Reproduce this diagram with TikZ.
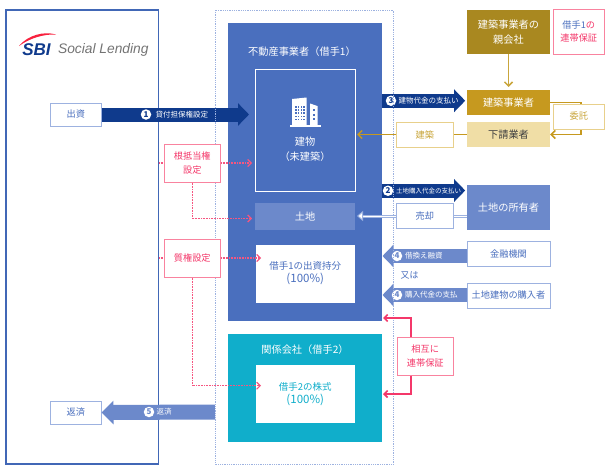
\documentclass[tikz,border=0pt]{standalone}
\usepackage{fontspec}
\setmainfont{Noto Sans CJK JP}
\newfontfamily\logofont{Liberation Sans}
\usepackage{tikz}
\usetikzlibrary{arrows.meta, positioning, calc}
\definecolor{navyblue}{HTML}{0F3A8C}
\definecolor{mainblue}{HTML}{4A6FBE}
\definecolor{paleblue}{HTML}{6C89CB}
\definecolor{lineblue}{HTML}{9DB2E0}
\definecolor{tealblue}{HTML}{10AECB}
\definecolor{darkgold}{HTML}{A98820}
\definecolor{midgold}{HTML}{C6991F}
\definecolor{lightgold}{HTML}{F0DEA6}
\definecolor{linegold}{HTML}{C9A63C}
\definecolor{hotpink}{HTML}{F4386A}
\definecolor{softpink}{HTML}{F9839F}

\begin{document}
\begin{tikzpicture}[
    x=1pt,
    y=-1pt,
    box/.style={rectangle, inner sep=0pt, align=center, font=\fontsize{9.2}{13.5}\selectfont},
    solidbox/.style={box, fill=#1, text=white, font=\fontsize{10.2}{15}\selectfont},
    bluebox/.style={box, draw=lineblue, line width=1pt, fill=white, text=mainblue},
    pinkbox/.style={box, draw=softpink, line width=1pt, fill=white, text=hotpink, minimum width=56.5pt, minimum height=38pt},
    goldbox/.style={box, draw=lightgold!80!midgold, line width=1pt, fill=white, text=linegold},
    caption/.style={box, text=white, font=\fontsize{10.2}{15}\selectfont},
    bigarrow/.style={draw=#1, line width=14pt, -{Triangle[length=11pt, width=22pt]}},
    badge/.style={circle, fill=white, inner sep=0pt, minimum size=10.5pt, text=#1, font=\fontsize{8}{8}\bfseries\selectfont},
    small/.style={text=white, inner sep=0pt, font=\fontsize{7.5}{8}\selectfont},
    pinkdots/.style={draw=hotpink!85, line width=1.2pt, dash pattern=on 1pt off 0.6pt},
    pinktip/.style={pinkdots, -{Straight Barb[length=3.5pt, width=7pt]}},
    redline/.style={draw=hotpink, line width=1.6pt, -{Straight Barb[length=3.5pt, width=7pt]}},
    goldline/.style={draw=midgold, line width=1.5pt, -{Straight Barb[length=4pt, width=8pt]}}
]
    \useasboundingbox (0,0) rectangle (610,471);

    % left panel with the logo
    \node[box, draw=mainblue!85!navyblue, line width=1.1pt, minimum width=152.5pt, minimum height=454pt] (lender) at (82.25,237) {};
    \fill[hotpink!60!red] (19,46) .. controls (28,35) and (44,31) .. (56,34.5) .. controls (44,34) and (30,38) .. (19,46);
    \node[inner sep=0pt, text=navyblue, font=\logofont\fontsize{17}{17}\bfseries\itshape\selectfont] (sbi) at (36.5,49.5) {SBI};
    \node[inner sep=0pt, text=black!55, font=\logofont\fontsize{13.8}{14}\itshape\selectfont, right=7pt of sbi] (social) {Social Lending};

    % borrower blocks
    \node[box, fill=mainblue, minimum width=154pt, minimum height=298pt] (borrowerA) at (305,172) {};
    \node[caption] (borrowerAname) at (302,52) {不動産事業者（借手1）};
    \node[box, draw=white, line width=1pt, minimum width=99.5pt, minimum height=122.5pt] (building) at (305.25,130.25) {};
    \node[caption] (buildingname) at (305,149.5) {建物\\（未建築）};
    \node[box, fill=paleblue, text=white, minimum width=100pt, minimum height=27pt, font=\fontsize{10.2}{15}\selectfont] (land) at (305,216.5) {土地};
    \node[box, fill=white, text=mainblue, minimum width=99.5pt, minimum height=58pt, font=\fontsize{9.5}{13}\selectfont] (shareA) at (305.25,273.5) {借手1の出資持分\\{\fontsize{11.5}{13}\selectfont (100\%)}};
    \node[box, fill=tealblue, minimum width=154pt, minimum height=107.5pt] (borrowerB) at (305,387.75) {};
    \node[caption] (borrowerBname) at (305,350) {関係会社（借手2）};
    \node[box, fill=white, text=tealblue, minimum width=99.5pt, minimum height=57.5pt, font=\fontsize{9.5}{13}\selectfont] (shareB) at (305.25,393.75) {借手2の株式\\{\fontsize{11.5}{13}\selectfont (100\%)}};

    % building icon
    \fill[white] (292,99) -- (306.5,97.5) -- (306.5,125) -- (292,125) -- cycle;
    \fill[white] (310,103.5) -- (317.5,106) -- (317.5,125) -- (310,125) -- cycle;
    \fill[white] (290,125) rectangle (321,127);
    \foreach \col in {0,1,2,3}
        \foreach \row in {0,1,2,3,4}
            \fill[mainblue] (295+\col*2.8,106+\row*3.2) rectangle +(1.5,1.5);
    \foreach \row in {0,1,2}
        \fill[mainblue] (312.5,109+\row*4.5) rectangle +(2.5,2);

    % boxes on the outer sides
    \node[bluebox, minimum width=50.5pt, minimum height=23pt] (invest) at (75.75,114.5) {出資};
    \node[bluebox, minimum width=50.5pt, minimum height=23pt] (repay) at (75.75,412.5) {返済};
    \node[solidbox=darkgold, minimum width=83pt, minimum height=44.5pt] (parent) at (508.5,31.75) {建築事業者の\\親会社};
    \node[solidbox=midgold, minimum width=83pt, minimum height=25.5pt] (builder) at (508.5,102.25) {建築事業者};
    \node[box, fill=lightgold, text=black!75, minimum width=83pt, minimum height=25pt, font=\fontsize{10.2}{15}\selectfont] (subcontractor) at (508.5,134.5) {下請業者};
    \node[solidbox=paleblue, minimum width=83pt, minimum height=45pt] (landowner) at (508.5,207.5) {土地の所有者};
    \node[bluebox, minimum width=83pt, minimum height=25pt] (bank) at (508.5,254) {金融機関};
    \node[bluebox, minimum width=83pt, minimum height=25pt] (purchaser) at (508.5,295.5) {土地建物の購入者};
    \node[box, draw=softpink, line width=1pt, fill=white, minimum width=51.5pt, minimum height=44.5pt] (guarantee) at (578.75,31.75) {\textcolor{mainblue}{借手1}\textcolor{hotpink}{の}\\\textcolor{hotpink}{連帯保証}};

    % thick flows
    \coordinate (tipone) at (249,114.5);
    \coordinate (tipfive) at (215,412);
    \coordinate (tipfourA) at (382.5,256);
    \coordinate (tipfourB) at (382.5,295);
    \draw[bigarrow=navyblue] (invest.east) -- (tipone);
    \draw[draw=paleblue, line width=15pt, {Triangle[length=12pt, width=23pt]}-] (repay.east) -- (tipfive);
    \draw[bigarrow=navyblue] (borrowerA.east |- builder.west) ++(0,-1.5) -- ++(83,0) coordinate (tipthree);
    \draw[bigarrow=navyblue] (borrowerA.east |- landowner.west) ++(0,-17) -- ++(83,0) coordinate (tiptwo);
    \draw[bigarrow=paleblue] (bank.west |- tipfourA) -- (tipfourA);
    \draw[bigarrow=paleblue] (purchaser.west |- tipfourB) -- (tipfourB);

    \node[badge=navyblue] (stepone) at (146,114.5) {1};
    \node[small, right=4pt of stepone] (stepone-text) {貸付担保権設定};
    \node[badge=navyblue] (stepthree) at (391,100.75) {3};
    \node[small, right=2pt of stepthree] (stepthree-text) {建物代金の支払い};
    \node[badge=navyblue] (steptwo) at (388,190.75) {2};
    \node[small, right=2.5pt of steptwo, font=\fontsize{6.5}{8}\selectfont] (steptwo-text) {土地購入代金の支払い};
    \node[badge=paleblue] (stepfourA) at (397,256) {4};
    \node[small, right=2.5pt of stepfourA] (stepfourA-text) {借換え融資};
    \node[badge=paleblue] (stepfourB) at (397,295) {4};
    \node[small, right=2.5pt of stepfourB] (stepfourB-text) {購入代金の支払};
    \node[badge=paleblue] (stepfive) at (149,412) {5};
    \node[small, right=2pt of stepfive] (stepfive-text) {返済};
    \node[box, text=mainblue, font=\fontsize{9}{12}\selectfont] (either) at (409.5,275) {又は};

    % outline of the borrower side
    \draw[draw=lineblue, line width=0.8pt, densely dotted] (215,10) rectangle (393.7,464);

    % construction and sale lines
    \coordinate (tipbuild) at (357,134.5);
    \coordinate (tipsale) at (357,216);
    \coordinate (tipparent) at (508.5,87);
    \draw[goldline, draw=linegold] (parent.south) -- (tipparent);
    \draw[goldline] (builder.east) -| (581,134.5) -- (subcontractor.east);
    \draw[goldline] (subcontractor.west) -- (tipbuild);
    \draw[draw=lineblue, double=white, double distance=1pt, line width=1pt, -{Triangle[open, length=6pt, width=10pt, fill=white]}] (landowner.west |- tipsale) -- (tipsale);
    \node[goldbox, minimum width=51.5pt, minimum height=25pt] (entrust) at (578.75,116.5) {委託};
    \node[goldbox, minimum width=57.5pt, minimum height=25pt] (construct) at (424.75,134.5) {建築};
    \node[bluebox, minimum width=57.5pt, minimum height=24.5pt] (sale) at (424.75,216) {売却};

    % security interests
    \node[pinkbox] (mortgage) at (192.25,163) {根抵当権\\設定};
    \node[pinkbox] (pledge) at (192.25,258) {質権設定};
    \coordinate (tipmortA) at (252,163);
    \coordinate (tipmortB) at (252,218.5);
    \coordinate (tippledgeA) at (261,258);
    \coordinate (tippledgeB) at (261,385.7);
    \draw[pinkdots] (lender.east |- mortgage.west) -- (mortgage.west);
    \draw[pinkdots] (lender.east |- pledge.west) -- (pledge.west);
    \draw[pinktip] (mortgage.east) -- (tipmortA);
    \draw[pinktip] (mortgage.south) |- (tipmortB);
    \draw[pinktip] (pledge.east) -- (tippledgeA);
    \draw[pinktip] (pledge.south) |- (tippledgeB);

    % mutual guarantee
    \node[pinkbox] (mutual) at (425.25,356) {相互に\\連帯保証};
    \coordinate (tipmutualA) at (383,318);
    \coordinate (tipmutualB) at (383,394);
    \draw[redline] ([xshift=-14pt]mutual.north) |- (tipmutualA);
    \draw[redline] ([xshift=-14pt]mutual.south) |- (tipmutualB);
\end{tikzpicture}
\end{document}
